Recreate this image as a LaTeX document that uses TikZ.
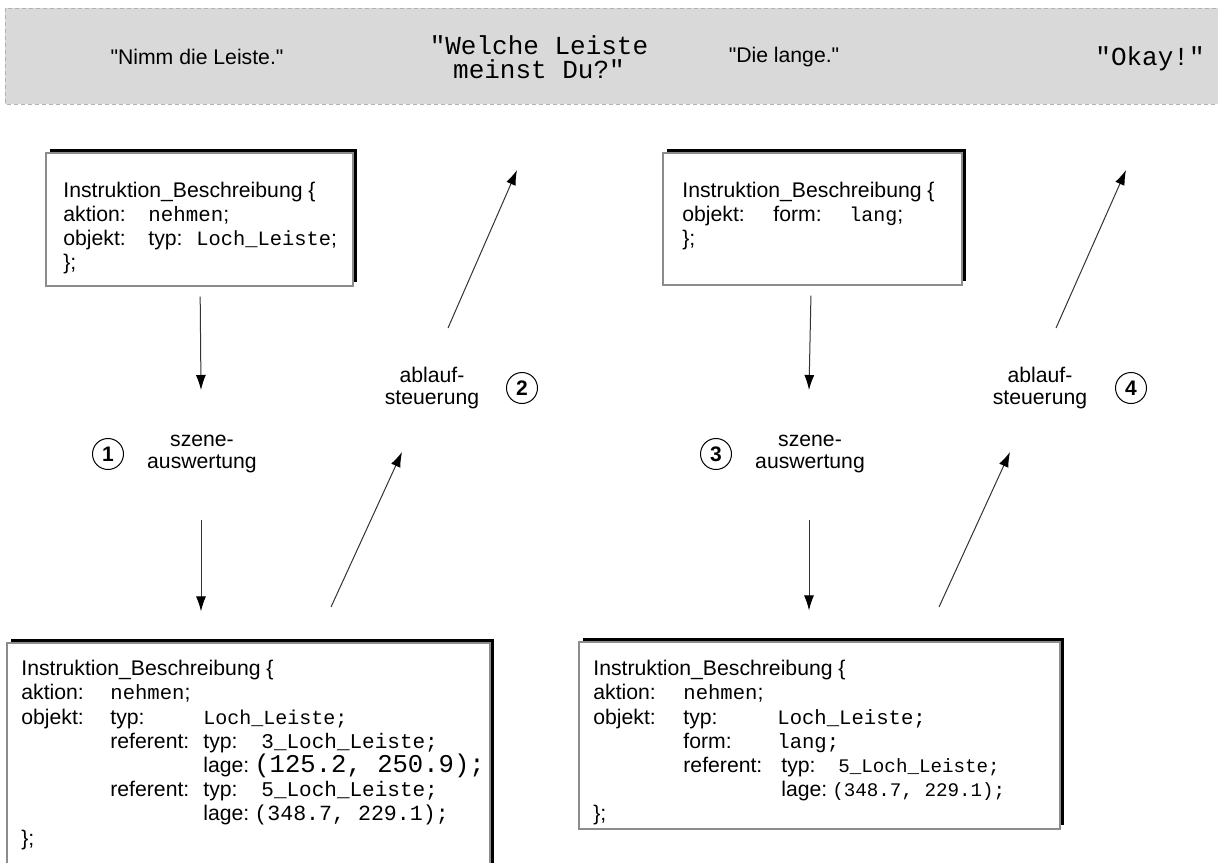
\documentclass[tikz,border=0pt]{standalone}
\usepackage{fontspec}
\setmainfont{Liberation Sans}
\setmonofont{Liberation Mono}
\newfontfamily\speechfont{Liberation Sans}
\usetikzlibrary{arrows.meta,shadows}

% fixed-width field and typewriter value of a given size
\newcommand{\fld}[2]{\makebox[#1][l]{#2}}
\newcommand{\code}[2][10.3]{{\fontsize{#1}{12}\selectfont\ttfamily #2}}

\tikzset{instrbox/.style = {draw = black!45,
                            fill = white,
                            line width = 0.6pt,
                            inner sep = 0pt,
                            drop shadow = {shadow xshift = 2pt,
                                           shadow yshift = 2pt,
                                           fill = black,
                                           opacity = 1}},
         boxtext/.style = {anchor = north west,
                           align = left,
                           inner sep = 0pt,
                           font = \fontsize{10.6}{12}\selectfont},
         flow/.style = {draw = black!80,
                        line width = 0.5pt,
                        -{Latex[length = 7.5pt, width = 5pt, color = black]}},
         numnode/.style = {shape = circle,
                           draw,
                           line width = 0.5pt,
                           minimum size = 15.5pt,
                           inner sep = 0pt,
                           font = \fontsize{10.5}{12}\selectfont\bfseries},
         steplabel/.style = {align = center,
                             font = \fontsize{10.6}{11.25}\selectfont}}

\begin{document}
\begin{tikzpicture}[x = 0.5pt, y = -0.5pt]
  \useasboundingbox (0,0) rectangle (1218,862);

  % dialogue strip
  \fill[black!15] (5,8) rectangle (1225,104);
  \draw[black!30, line width = 0.5pt, dash pattern = on 2pt off 1.5pt] (5,8) rectangle (1225,104);
  \node (say1) at (197,57) {\fontsize{10.6}{12}\speechfont "Nimm die Leiste."};
  \node[align = center] (say2) at (539,57)
    {\fontsize{13}{10}\selectfont\ttfamily "Welche Leiste\\ \fontsize{13}{10}\selectfont\ttfamily meinst Du?"};
  \node (say3) at (784,57) {\fontsize{10.6}{12}\speechfont "Die lange."};
  \node (say4) at (1150,59) {\fontsize{13}{12}\selectfont\ttfamily "Okay!"};

  % first instruction
  \node[instrbox, minimum width = 153.5pt, minimum height = 66.5pt] (instr1) at (199.5,219.5) {};
  \node[boxtext] (instr1txt) at (63,182) {Instruktion\_Beschreibung \{\\
    \fld{42.5pt}{aktion:}\code[10.4]{nehmen};\\
    \fld{42.5pt}{objekt:}\fld{24pt}{typ:}\code[10.2]{Loch\_Leiste};\\
    \};};

  % second instruction
  \node[instrbox, minimum width = 149.5pt, minimum height = 66pt] (instr2) at (812.5,219) {};
  \node[boxtext] (instr2txt) at (682,182) {Instruktion\_Beschreibung \{\\
    \fld{45.5pt}{objekt:}\fld{38pt}{form:}\code[10]{lang};\\
    \};};

  % resolved descriptions
  \node[instrbox, minimum width = 241.5pt, minimum height = 114.5pt] (ref1) at (248.5,757.5) {};
  \node[boxtext, font = \fontsize{10.6}{12.1}\selectfont] (ref1txt) at (21,660) {Instruktion\_Beschreibung \{\\
    \fld{44.5pt}{aktion:}\code{nehmen};\\
    \fld{44.5pt}{objekt:}\fld{46.5pt}{typ:}\code[10]{Loch\_Leiste;}\\
    \fld{44.5pt}{}\fld{46.5pt}{referent:}\fld{29pt}{typ:}\code[10.5]{3\_Loch\_Leiste;}\\
    \fld{91pt}{}lage:\hspace{2.5pt}\code[12.8]{(125.2, 250.9);}\\
    \fld{44.5pt}{}\fld{46.5pt}{referent:}\fld{29pt}{typ:}\code[10.5]{5\_Loch\_Leiste;}\\
    \fld{91pt}{}lage:\hspace{2.5pt}\code[10.8]{(348.7, 229.1);}\\
    \};};

  \node[instrbox, minimum width = 240.5pt, minimum height = 93.5pt] (ref2) at (819.5,735.5) {};
  \node[boxtext, font = \fontsize{10.6}{12.1}\selectfont] (ref2txt) at (593,660) {Instruktion\_Beschreibung \{\\
    \fld{45pt}{aktion:}\code{nehmen};\\
    \fld{45pt}{objekt:}\fld{47pt}{typ:}\code{Loch\_Leiste;}\\
    \fld{45pt}{}\fld{47pt}{form:}\code{lang;}\\
    \fld{45pt}{}\fld{49pt}{referent:}\fld{28.5pt}{typ:}\code[9.6]{5\_Loch\_Leiste;}\\
    \fld{94pt}{}lage:\hspace{2.5pt}\code[9.6]{(348.7, 229.1);}\\
    \};};

  % processing steps
  \node[numnode] (n1) at (108,454) {1};
  \node[steplabel] (szene1) at (202,454) {szene-\\auswertung};
  \node[steplabel] (ablauf1) at (432,388) {ablauf-\\steuerung};
  \node[numnode] (n2) at (522,388) {2};
  \node[numnode] (n3) at (716,454) {3};
  \node[steplabel] (szene2) at (810,454) {szene-\\auswertung};
  \node[steplabel] (ablauf2) at (1040,388) {ablauf-\\steuerung};
  \node[numnode] (n4) at (1131,388) {4};

  \coordinate (s1top) at (201,390);
  \coordinate (s1bot) at (201,520);
  \coordinate (u1a) at (331,607);
  \coordinate (u1b) at (402,452);
  \coordinate (u2a) at (448,328);
  \coordinate (u2b) at (517,170);
  \coordinate (s2top) at (809,390);
  \coordinate (s2bot) at (809,520);
  \coordinate (u3a) at (939,607);
  \coordinate (u3b) at (1010,452);
  \coordinate (u4a) at (1056,328);
  \coordinate (u4b) at (1126,170);

  \draw[flow, shorten <= 5pt] (instr1) -- (s1top);
  \draw[flow, shorten >= 15.5pt] (s1bot) -- (s1bot |- ref1.north);
  \draw[flow] (u1a) -- (u1b);
  \draw[flow] (u2a) -- (u2b);
  \draw[flow, shorten <= 5pt] (instr2) -- (s2top);
  \draw[flow, shorten >= 15.5pt] (s2bot) -- (s2bot |- ref2.north);
  \draw[flow] (u3a) -- (u3b);
  \draw[flow] (u4a) -- (u4b);
\end{tikzpicture}
\end{document}
